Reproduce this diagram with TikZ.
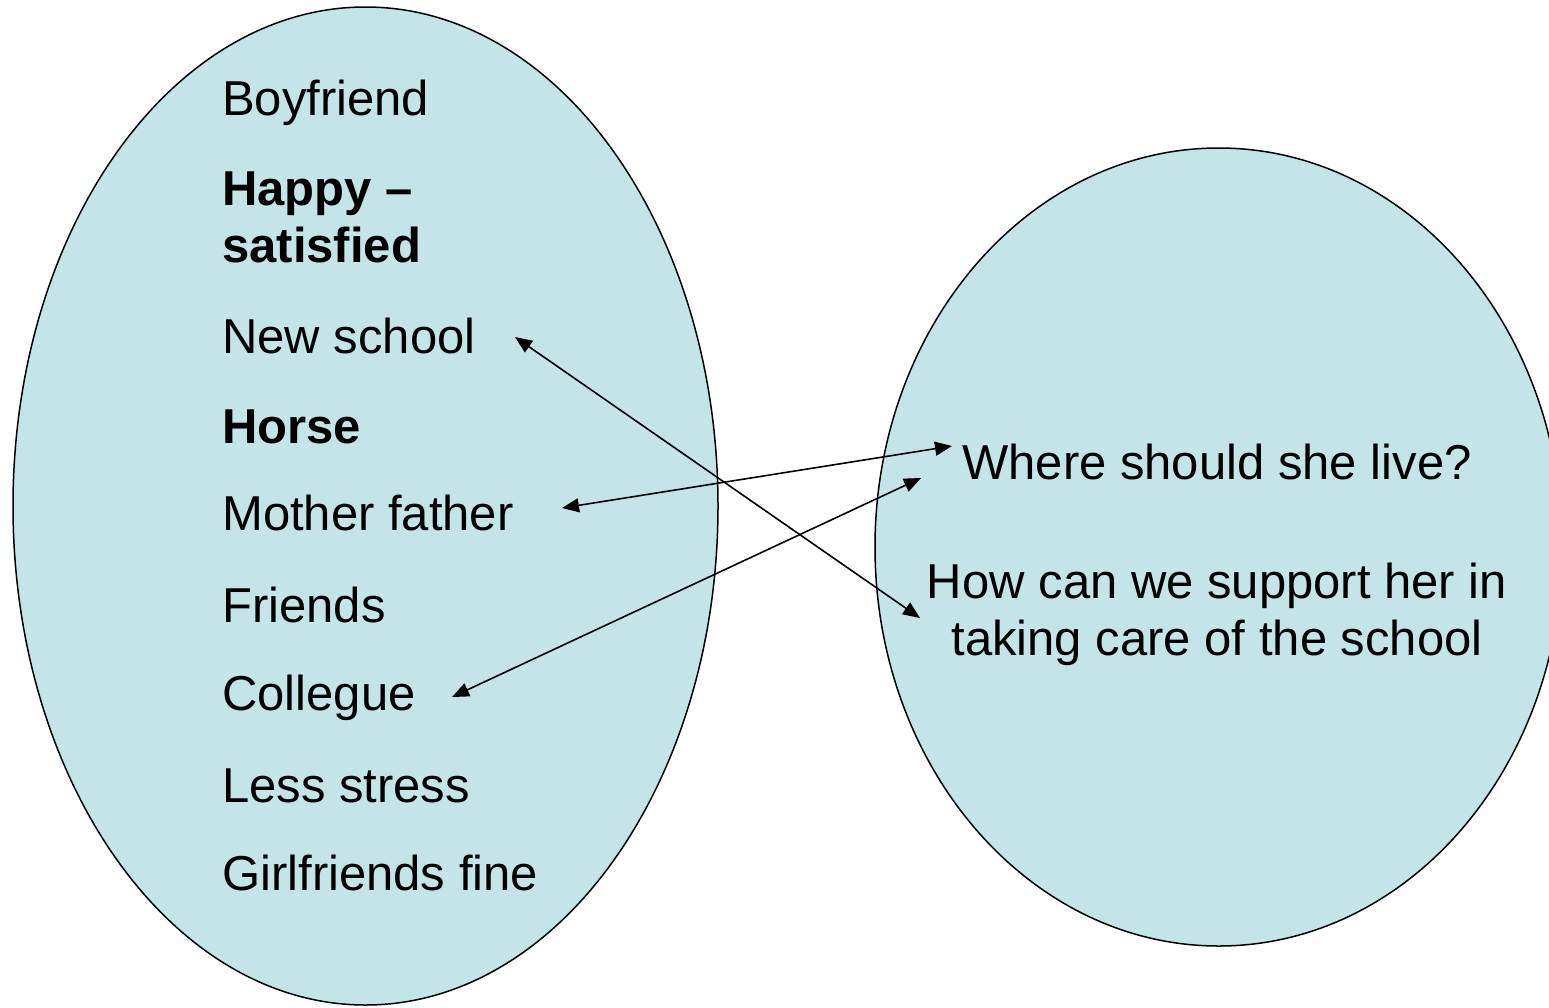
\documentclass[tikz,border=0pt]{standalone}
\usepackage{fontspec}
\setmainfont{Liberation Sans}
\usetikzlibrary{arrows.meta}
\definecolor{bubble}{RGB}{196,229,232}
\tikzset{
  bubbleshape/.style={fill=bubble, draw=black, line width=1.5pt},
  item/.style={inner sep=0pt, anchor=base west, font=\fontsize{49}{57}\selectfont, align=left},
  question/.style={inner sep=0pt, anchor=base, font=\fontsize{49}{57}\selectfont, align=center},
  link/.style={line width=1.6pt, {Triangle[length=17pt,width=14pt]}-{Triangle[length=17pt,width=14pt]}}
}
\begin{document}
\begin{tikzpicture}[x=1pt,y=-1pt]
\useasboundingbox (0,0) rectangle (1549,1007);
% bubbles
\path[bubbleshape] (365.5,506) ellipse [x radius=352.5, y radius=499];
\path[bubbleshape] (1218.7,547) ellipse [x radius=343.7, y radius=399];
% left items
\node[item] (bf) at (222,115) {Boyfriend};
\node[item, font=\fontsize{49}{57}\selectfont\bfseries] (hs) at (222,262) {Happy –\\satisfied};
\node[item] (ns) at (222,353) {New school};
\node[item, font=\fontsize{49}{57}\selectfont\bfseries] (ho) at (222,443) {Horse};
\node[item] (mf) at (222,530) {Mother father};
\node[item] (fr) at (222,622) {Friends};
\node[item] (co) at (222,710) {Collegue};
\node[item] (ls) at (222,802) {Less stress};
\node[item] (gf) at (222,890) {Girlfriends fine};
% right items
\node[question] (wh) at (1217,479) {Where should she live?};
\node[question] (hw) at (1217,655) {How can we support her in\\taking care of the school};
% connector ends
\coordinate (nsE) at (515,337);
\coordinate (hwW) at (920,618);
\coordinate (mfE) at (562,508);
\coordinate (whW1) at (952,446);
\coordinate (coE) at (452,697);
\coordinate (whW2) at (921,478);
\draw[link] (nsE) -- (hwW);
\draw[link] (mfE) -- (whW1);
\draw[link] (coE) -- (whW2);
\end{tikzpicture}
\end{document}
